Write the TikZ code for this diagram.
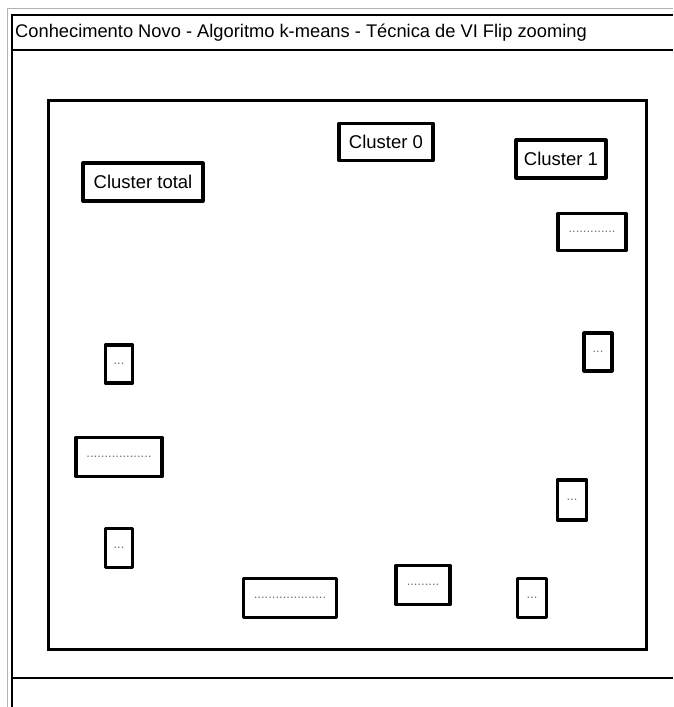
\documentclass[tikz,border=0pt]{standalone}
\usepackage{fontspec}
\setmainfont{Liberation Sans}
\begin{document}
\begin{tikzpicture}[x=1pt,y=-1pt,
  box/.style={draw=black, line width=3.2pt, line join=round, fill=white, inner sep=0pt, font=\fontsize{18.5}{20}\selectfont},
  dotbox/.style={box, font=\fontsize{13}{14}\selectfont\color{black!55}},
  frame/.style={draw=black, line width=2.8pt},
  faint/.style={draw=black!30, line width=1pt}]
\useasboundingbox (0,0) rectangle (673,707);
\fill[white] (0,0) rectangle (673,707);
% faint outer lines
\draw[faint] (7,707) -- (7,8) -- (673,8);
% outer frame
\draw[frame] (12,707) -- (12,15) -- (673,15);
\draw[frame] (12,50) -- (673,50);
\draw[frame] (12,678) -- (673,678);
\node[anchor=west, font=\fontsize{18.3}{20}\selectfont, inner sep=0pt] (title) at (15,33) {Conhecimento Novo - Algoritmo k-means - Técnica de VI Flip zooming};
% inner rectangle
\draw[frame, line width=3pt] (48,100) rectangle (646,649);
% labelled boxes
\node[box, minimum width=120pt, minimum height=38pt] (ctotal) at (143,182) {Cluster total};
\node[box, minimum width=94pt, minimum height=37pt] (c0) at (386,142) {Cluster 0};
\node[box, minimum width=90pt, minimum height=38pt] (c1) at (561,159) {Cluster 1};
% dotted boxes
\node[dotbox, minimum width=68pt, minimum height=37pt] (d1) at (592,232) {.............};
\node[dotbox, minimum width=28pt, minimum height=38pt] (d2) at (598,352) {...};
\node[dotbox, minimum width=27pt, minimum height=38pt] (d3) at (119,364) {...};
\node[dotbox, minimum width=86pt, minimum height=39pt] (d4) at (119,457) {..................};
\node[dotbox, minimum width=29pt, minimum height=40pt] (d5) at (572,500) {...};
\node[dotbox, minimum width=27pt, minimum height=39pt] (d6) at (119,548) {...};
\node[dotbox, minimum width=93pt, minimum height=39pt] (d7) at (290,598) {....................};
\node[dotbox, minimum width=54pt, minimum height=39pt] (d8) at (423,585) {.........};
\node[dotbox, minimum width=29pt, minimum height=39pt] (d9) at (532,598) {...};
\end{tikzpicture}
\end{document}
